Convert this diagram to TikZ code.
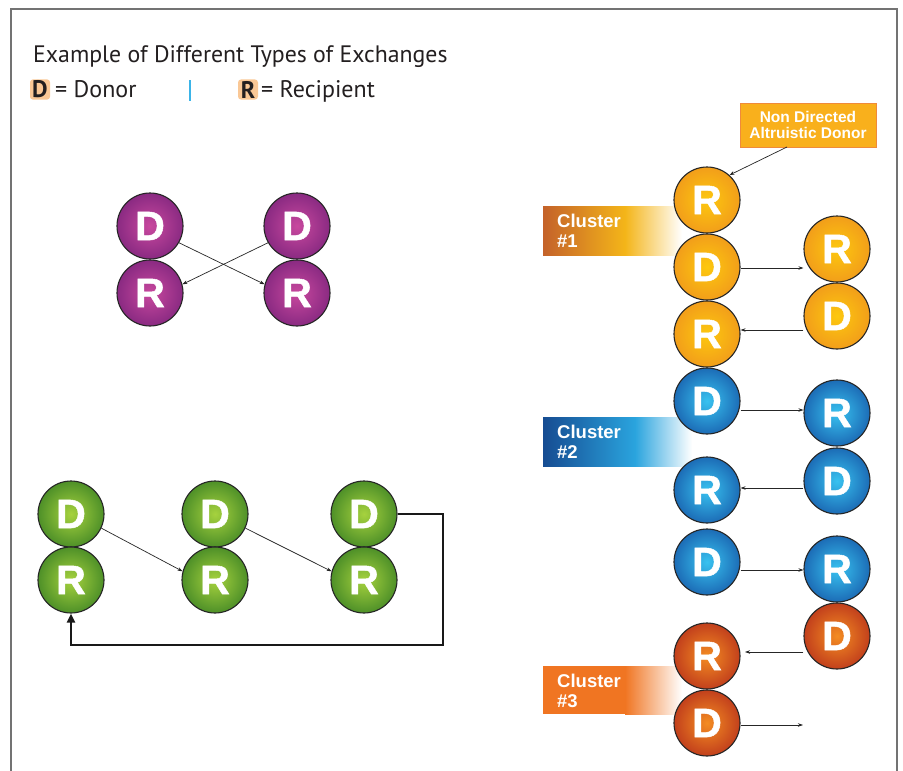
\documentclass[tikz,border=0pt]{standalone}
\usepackage{fontspec}
\setmainfont{PT Sans}
\newfontfamily\arialfont{Liberation Sans}
\newfontfamily\heavyfont[FakeBold=1.2]{Liberation Sans Bold}
\usetikzlibrary{arrows.meta}
\definecolor{purpIn}{HTML}{C8489E}
\definecolor{purpOut}{HTML}{8A2A82}
\definecolor{grnIn}{HTML}{A6D23E}
\definecolor{grnOut}{HTML}{4E9028}
\definecolor{ylwIn}{HTML}{FDC80E}
\definecolor{ylwOut}{HTML}{F29E1A}
\definecolor{bluIn}{HTML}{38C2F0}
\definecolor{bluOut}{HTML}{1C6CB6}
\definecolor{redIn}{HTML}{F48C22}
\definecolor{redOut}{HTML}{C2401C}
\definecolor{legendbox}{HTML}{FAC896}
\definecolor{sepblue}{HTML}{3BB4E8}
\definecolor{ndfill}{HTML}{F9B01C}
\definecolor{ndborder}{HTML}{F08A3A}
\definecolor{cOneA}{HTML}{C4622A}
\definecolor{cOneB}{HTML}{F4B519}
\definecolor{cTwoA}{HTML}{164C92}
\definecolor{cTwoB}{HTML}{2AA4DE}
\definecolor{cThreeA}{HTML}{F07522}
\definecolor{txtdark}{HTML}{231F20}
\tikzset{
  ball/.style={circle, draw=black!85, line width=1.1pt, minimum size=66pt, inner sep=0pt,
    font=\heavyfont\fontsize{41}{41}\selectfont, text=white},
  purp/.style={ball, inner color=purpIn, outer color=purpOut},
  grn/.style={ball, inner color=grnIn, outer color=grnOut},
  ylw/.style={ball, inner color=ylwIn, outer color=ylwOut},
  blu/.style={ball, inner color=bluIn, outer color=bluOut},
  rdd/.style={ball, inner color=redIn, outer color=redOut},
  thin arrow/.style={draw=black!85, line width=0.7pt, -{Stealth[length=5pt,width=3.5pt]}},
  clustertext/.style={anchor=north west, align=left, text=white,
    font=\arialfont\bfseries\fontsize{18.5}{20}\selectfont, inner sep=0pt},
  legendletter/.style={fill=legendbox, rounded corners=3pt, inner sep=1.5pt,
    minimum width=20pt, minimum height=20pt, text=txtdark,
    font=\fontsize{24}{24}\selectfont\bfseries},
  legendtext/.style={anchor=base west, inner sep=0pt, text=txtdark, font=\fontsize{24}{24}\selectfont}
}
\begin{document}
\begin{tikzpicture}[x=1pt,y=-1pt]
\useasboundingbox (0,0) rectangle (903,771);
\fill[white] (0,0) rectangle (903,771);
% frame
\draw[black!55, line width=1.4pt] (11,771) -- (11,9) -- (897,9) -- (897,771);
% title and legend
\node[anchor=base west, inner sep=0pt, text=txtdark, font=\fontsize{23.8}{24}\selectfont] (title) at (33,62) {Example of Different Types of Exchanges};
\node[legendletter] (legD) at (40,89.5) {D};
\node[legendtext] (legDt) at (55,97.5) {= Donor};
\draw[sepblue, line width=1.4pt] (190,80) -- (190,101);
\node[legendletter] (legR) at (248,89.5) {R};
\node[legendtext] (legRt) at (261,97.5) {= Recipient};

% purple pair exchange
\node[purp] (pD1) at (150,226) {D};
\node[purp] (pR1) at (150,293) {R};
\node[purp] (pD2) at (297,226) {D};
\node[purp] (pR2) at (297,293) {R};
\draw[thin arrow] (pD1.-30) -- (pR2.165);
\draw[thin arrow] (pD2.-150) -- (pR1.15);

% green chain
\node[grn] (gD1) at (71,514) {D};
\node[grn] (gR1) at (71,580) {R};
\node[grn] (gD2) at (215,514) {D};
\node[grn] (gR2) at (215,580) {R};
\node[grn] (gD3) at (364,514) {D};
\node[grn] (gR3) at (364,580) {R};
\draw[thin arrow] (gD1.-25) -- (gR2.165);
\draw[thin arrow] (gD2.-25) -- (gR3.165);
\coordinate (loopA) at (443,514);
\coordinate (loopB) at (443,645);
\coordinate (loopC) at (71,645);
\draw[black!90, line width=2.2pt, -{Triangle[length=9pt,width=8pt]}] (gD3.east) -- (loopA) -- (loopB) -- (loopC) -- (gR1.south);

% cluster label boxes
\shade[left color=cOneA, right color=cOneB] (543,206) rectangle (625,255);
\shade[left color=cOneB, right color=white] (625,206) rectangle (682,255);
\node[clustertext] (cl1) at (557,214) {Cluster\\\#1};
\shade[left color=cTwoA, right color=cTwoB] (543,417) rectangle (635,466);
\shade[left color=cTwoB, right color=white] (635,417) rectangle (692,466);
\node[clustertext] (cl2) at (557,425) {Cluster\\\#2};
\fill[cThreeA] (543,666) rectangle (625,714);
\shade[left color=cThreeA, right color=white] (625,666) rectangle (682,714);
\node[clustertext] (cl3) at (557,674) {Cluster\\\#3};

% non directed donor
\node[fill=ndfill, draw=ndborder, line width=0.8pt, minimum width=136pt, minimum height=44pt, inner sep=0pt,
  align=center, text=white, font=\arialfont\bfseries\fontsize{15.5}{16.5}\selectfont] (nd) at (808,125) {Non Directed\\Altruistic Donor};

% cluster 1
\node[ylw] (y1R) at (707,200) {R};
\node[ylw] (y1D) at (707,267) {D};
\node[ylw] (y2R) at (707,334) {R};
\node[ylw] (y3R) at (837,249) {R};
\node[ylw] (y3D) at (837,316) {D};
\draw[thin arrow] (787,147) -- (y1R.48);
\draw[thin arrow] (y1D.east |- 0,268) -- (y3R.west |- 0,268);
\draw[thin arrow] (y3D.west |- 0,330) -- (y2R.east |- 0,330);

% cluster 2
\node[blu] (b1D) at (707,401) {D};
\node[blu] (b1R) at (707,490) {R};
\node[blu] (b2D) at (707,562) {D};
\node[blu] (b3R) at (837,413) {R};
\node[blu] (b3D) at (837,481) {D};
\node[blu] (b4R) at (837,569) {R};
\draw[thin arrow] (b1D.east |- 0,410) -- (b3R.west |- 0,410);
\draw[thin arrow] (b3D.west |- 0,488) -- (b1R.east |- 0,488);
\draw[thin arrow] (b2D.east |- 0,570) -- (b4R.west |- 0,570);

% cluster 3
\node[rdd] (r1D) at (837,636) {D};
\node[rdd] (r2R) at (707,656) {R};
\node[rdd] (r2D) at (707,723) {D};
\coordinate (endC) at (803,725);
\draw[thin arrow] (r1D.west |- 0,652) -- (745,652);
\draw[thin arrow] (r2D.east |- 0,725) -- (endC);
\end{tikzpicture}
\end{document}
